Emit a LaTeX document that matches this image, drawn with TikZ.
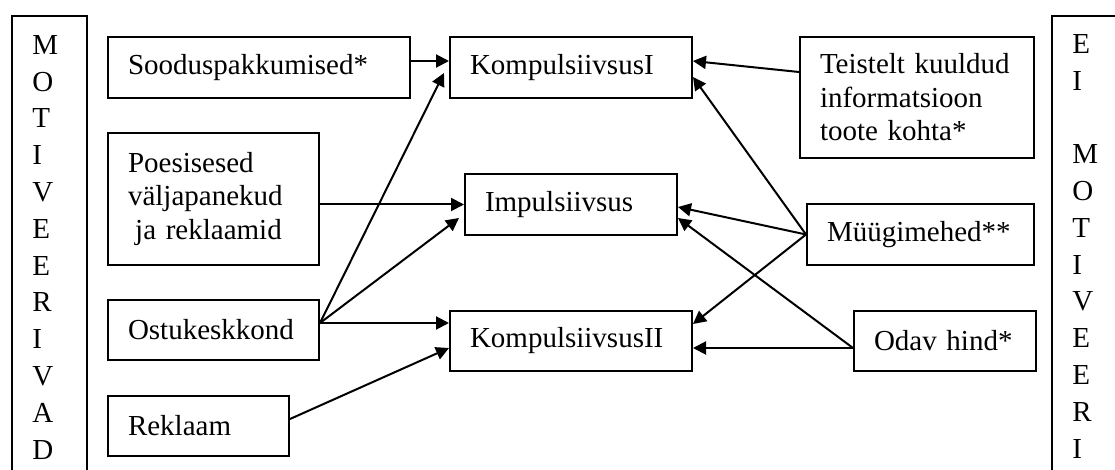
\documentclass[tikz,border=0pt]{standalone}
\usepackage{fontspec}
\setmainfont{Liberation Serif}
\usetikzlibrary{arrows.meta}

\begin{document}
\begin{tikzpicture}[
          x=0.5pt, y=-0.5pt,
          every node/.style={font=\fontsize{14.5}{16.75}\selectfont},
          factor/.style={draw, line width=1pt, anchor=north west, align=left, inner xsep=10pt, inner ysep=0pt},
          side/.style={draw, line width=1pt, anchor=north west, minimum height=240pt, inner sep=0pt},
          letters/.style={anchor=north west, align=left, inner sep=0pt, font=\fontsize{14.5}{18.4}\selectfont},
          link/.style={line width=1pt, -{Triangle[length=6.5pt, width=6.5pt]}}
        ]
        \useasboundingbox (0,0) rectangle (1115,470);
        \clip (0,0) rectangle (1115,470);

        \node[side, minimum width=37.5pt] (motiv) at (11,15) {};
        \node[letters] (motivtext) at (32,35) {M\\O\\T\\I\\V\\E\\E\\R\\I\\V\\A\\D};
        \node[side, minimum width=45pt] (eimotiv) at (1051,15) {};
        \node[letters] (eimotivtext) at (1072,34) {E\\I\\[18.4pt]M\\O\\T\\I\\V\\E\\E\\R\\I};

        \node[factor, text width=131pt, minimum height=30.5pt] (sood) at (107,36) {Sooduspakkumised*};
        \node[factor, text width=85.5pt, minimum height=66pt] (poes) at (107,132) {Poesisesed\\väljapanekud\\\hspace*{3.6pt}ja reklaamid};
        \node[factor, text width=85.5pt, minimum height=30pt] (ostu) at (107,299) {Ostukeskkond};
        \node[factor, text width=70.5pt, minimum height=30pt] (rekl) at (107,395) {Reklaam};

        \node[factor, text width=101pt, minimum height=30.5pt] (kompI) at (449,36) {KompulsiivsusI};
        \node[factor, text width=86pt, minimum height=30.5pt] (impu) at (464,173) {Impulsiivsus};
        \node[factor, text width=101pt, minimum height=30pt] (kompII) at (449,310) {KompulsiivsusII};

        \node[factor, text width=97pt, minimum height=60.5pt] (teis) at (799,36) {Teistelt kuuldud\\informatsioon\\toote kohta*};
        \node[factor, text width=93.5pt, minimum height=30.5pt] (myyg) at (806,203) {Müügimehed**};
        \node[factor, text width=71pt, minimum height=30pt] (odav) at (853,310) {Odav hind*};

        \draw[link] ([yshift=3.25pt]sood.east) -- ([yshift=3.25pt]kompI.west);
        \draw[link] (impu.west -| poes.east) -- (impu.west);
        \draw[link] ([yshift=3.5pt]ostu.east) -- ([xshift=-2.5pt, yshift=-2.75pt]kompI.west);
        \draw[link] ([yshift=3.5pt]ostu.east) -- ([xshift=-2.5pt, yshift=-6.75pt]impu.west);
        \draw[link] ([yshift=3.5pt]ostu.east) -- ([yshift=9pt]kompII.west);
        \draw[link] ([yshift=3.5pt]rekl.east) -- ([yshift=-3.5pt]kompII.west);

        \draw[link] ([yshift=12.75pt]teis.west) -- ([yshift=3.25pt]kompI.east);
        \draw[link] (myyg.west) -- ([yshift=-4.75pt]kompI.east);
        \draw[link] (myyg.west) -- ([yshift=-1.25pt]impu.east);
        \draw[link] (myyg.west) -- ([yshift=8.5pt]kompII.east);
        \draw[link] ([yshift=-3.5pt]odav.west) -- ([yshift=-6.75pt]impu.east);
        \draw[link] ([yshift=-3.5pt]odav.west) -- ([yshift=-3.5pt]kompII.east);
\end{tikzpicture}
\end{document}
